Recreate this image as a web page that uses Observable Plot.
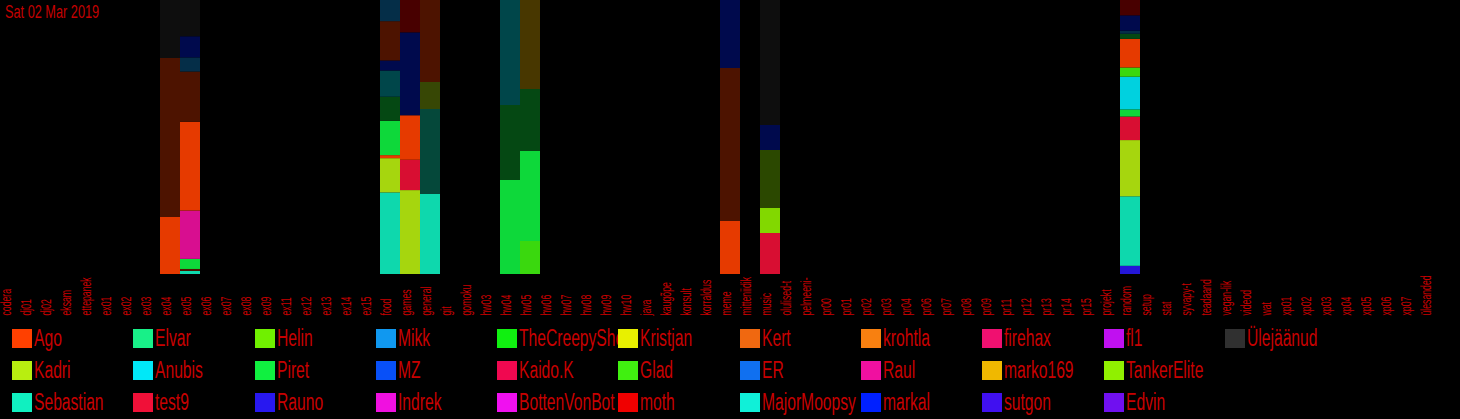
<!DOCTYPE html>
<html>
<head>
<meta charset="utf-8">
<script src="https://cdn.jsdelivr.net/npm/d3@7"></script>
<script src="https://cdn.jsdelivr.net/npm/@observablehq/plot@0.6"></script>
<style>
  html, body { margin: 0; padding: 0; background: #000; width: 1460px; height: 419px; overflow: hidden; }
  body { font-family: "Liberation Sans", Arial, sans-serif; position: relative; }
  #title { position: absolute; left: 5px; top: 1px; color: #c40000; font-size: 19px; transform: scaleX(0.67); transform-origin: 0 0; white-space: nowrap; }
  #legend { display: grid; grid-template-rows: repeat(3, 32px); grid-auto-flow: column; grid-auto-columns: 121.3px; padding-left: 12px; padding-top: 2px; }
  .item { display: flex; align-items: center; overflow: hidden; white-space: nowrap; height: 32px; }
  .sw { width: 20px; height: 19px; flex: none; margin-right: 2px; }
  .lbl { color: #c80000; font-size: 23px; transform: scaleX(0.68); transform-origin: 0 50%; display: inline-block; }
</style>
</head>
<body>
<div id="chart"></div>
<div id="title"></div>
<div id="legend"></div>
<script>
const title = "Sat 02 Mar 2019";

const channels = ["codera","dj01","dj02","eksam","ettepanek","ex01","ex02","ex03","ex04","ex05","ex06","ex07","ex08","ex09","ex11","ex12","ex13","ex14","ex15","food","games","general","git","gomoku","hw03","hw04","hw05","hw06","hw07","hw08","hw09","hw10","java","kaugõpe","konsult","korraldus","meme","mitteniidik","music","olulised-t","pelmeeni-","pr00","pr01","pr02","pr03","pr04","pr06","pr07","pr08","pr09","pr11","pr12","pr13","pr14","pr15","projekt","random","setup","stat","syvapy-t","teadaand","vegan-lik","videod","wat","xp01","xp02","xp03","xp04","xp05","xp06","xp07","ülesanded"];

const users = ["Ago","Kadri","Sebastian","Elvar","Anubis","test9","Helin","Piret","Rauno","Mikk","MZ","Indrek","TheCreepySheep","Kaido.K","BottenVonBot","Kristjan","Glad","moth","Kert","ER","MajorMoopsy","krohtla","Raul","markal","firehax","marko169","sutgon","fl1","TankerElite","Edvin","Ülejäänud"];
const userColors = ["#ff4000","#b8ee10","#10f0c0","#18f088","#00e8f8","#f01038","#70f000","#10f040","#2818f0","#1098f0","#0850f8","#f010e0","#10f010","#f00850","#f010f0","#e8f000","#40f010","#f00000","#f06810","#1070f0","#10f0d8","#f88010","#f010a0","#0020ff","#f01070","#f0b800","#4010f0","#c010f0","#90f000","#7010f0","#303030"];

// stacked segments, bottom to top within each channel (old = 1: faded, earlier activity)
const segChannel = [
  "ex04","ex04","ex04",
  "ex05","ex05","ex05","ex05","ex05","ex05","ex05","ex05","ex05",
  "food","food","food","food","food","food","food","food","food",
  "games","games","games","games","games",
  "general","general","general","general",
  "hw04","hw04","hw04",
  "hw05","hw05","hw05","hw05",
  "meme","meme","meme",
  "music","music","music","music","music",
  "random","random","random","random","random","random","random","random","random","random","random","random"
];
const segUser = [
  "Ago","Ago","Ülejäänud",
  "Sebastian","Ago","Piret","Raul","Ago","Ago","Mikk","markal","Ülejäänud",
  "Sebastian","Kadri","Ago","Piret","Piret","Anubis","markal","Ago","Mikk",
  "Kadri","test9","Ago","markal","moth",
  "Sebastian","Sebastian","Kadri","Ago",
  "Piret","Piret","Anubis",
  "Glad","Piret","Piret","marko169",
  "Ago","Ago","markal",
  "test9","TankerElite","TankerElite","markal","Ülejäänud",
  "Rauno","Sebastian","Kadri","test9","Piret","Anubis","Glad","Ago","Piret","Mikk","markal","moth"
];
const segOld = [
  0,1,1,
  0,1,0,0,0,1,1,1,1,
  0,0,0,0,1,1,1,1,1,
  0,0,0,1,1,
  0,1,1,1,
  0,1,1,
  0,0,1,1,
  0,1,1,
  0,0,1,1,1,
  0,0,0,0,0,0,0,0,1,1,1,1
];
const segValue = [
  57,159,58,
  3,2,10,48,88,50,14,21,36,
  81,34,3,34,24,26,10,39,21,
  83,30,44,82,32,
  80,85,27,82,
  94,75,105,
  33,90,62,89,
  53,153,68,
  41,25,58,25,125,
  8,68,55,23,7,32,9,28,5,3,15,15
];
</script>
<script>
const colorOf = new Map(users.map((u, i) => [u, userColors[i]]));
function shade(user, old) {
  const c = d3.rgb(colorOf.get(user));
  const k = old ? 0.3 : 0.9;
  return d3.rgb(c.r * k, c.g * k, c.b * k).formatHex();
}
const data = segValue.map((v, i) => ({channel: segChannel[i], user: segUser[i], old: segOld[i], value: v, fillc: shade(segUser[i], segOld[i])}));

const chart = Plot.plot({
  width: 1460,
  height: 320,
  marginTop: 0,
  marginLeft: 0,
  marginRight: 20,
  marginBottom: 46,
  style: {background: "#000", fontFamily: "'Liberation Sans', Arial, sans-serif"},
  x: {domain: channels, padding: 0, axis: null},
  y: {axis: null},
  color: {type: "identity"},
  marks: [
    Plot.barY(data, Plot.stackY({offset: "normalize", order: null}, {
      x: "channel", y: "value", z: (d, i) => i, fill: "fillc"
    })),
    Plot.text(channels, {
      x: d => d, text: d => d, frameAnchor: "bottom", dy: 41, rotate: -90,
      textAnchor: "start", fill: "#c80000", fontSize: 15, className: "xlabels"
    })
  ]
});
// narrow the rotated channel labels along their reading direction
chart.querySelectorAll(".xlabels text").forEach(t => {
  const tr = t.getAttribute("transform") || "";
  t.setAttribute("transform", tr + " scale(0.58,1)");
});
document.getElementById("chart").appendChild(chart);
document.getElementById("title").textContent = title;

const legend = document.getElementById("legend");
users.forEach((u, i) => {
  const item = document.createElement("div");
  item.className = "item";
  const sw = document.createElement("span");
  sw.className = "sw";
  sw.style.background = userColors[i];
  const lb = document.createElement("span");
  lb.className = "lbl";
  lb.textContent = u;
  item.appendChild(sw);
  item.appendChild(lb);
  legend.appendChild(item);
});
</script>
</body>
</html>
